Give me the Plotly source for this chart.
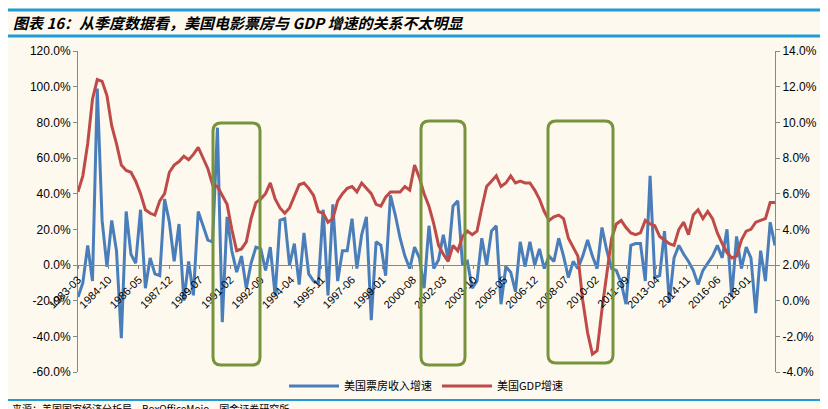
import plotly.graph_objects as go
import pandas as pd

dates = pd.date_range("1983-03-01", periods=146, freq="3MS").strftime("%Y-%m-%d").tolist()

box_office = [-18,-10,11,-9,99,25,-1,25,8,-41,30,6,1,31,-13,4,-5,-6,37,24,
              2,23,-20,2,-17,30,22,14,13,77,-32,27,8,-4,5,-13,1,10,9,-3,
              10,-17,25,26,0,12,-11,18,-5,-9,-10,31,-17,34,-9,8,8,26,-2,17,
              27,-31,13,11,-6,39,28,15,5,-2,10,4,-13,22,-2,3,17,3,33,36,
              0,2,-13,-9,15,0,19,22,-22,-1,-4,-15,13,-1,13,0,9,-2,5,2,
              15,5,-7,2,-2,5,14,5,-2,21,8,-2,-3,-10,-22,11,12,12,-9,50,
              -7,-6,19,-21,4,11,6,2,-3,-11,-3,1,5,11,4,20,-18,16,-2,10,
              4,-27,8,-9,24,11]

gdp = [6.1,7.0,8.8,11.3,12.4,12.3,11.5,9.8,8.8,7.6,7.3,7.2,6.7,6.0,5.1,4.9,4.8,5.6,6.0,7.2,
       7.6,7.8,8.1,7.9,8.2,8.6,8.0,7.4,6.5,6.4,5.9,5.4,4.0,2.8,2.9,3.3,4.6,5.5,5.7,6.0,
       6.6,5.7,5.2,4.9,5.2,5.9,6.5,6.6,6.3,5.9,5.0,4.9,4.4,4.6,5.6,6.0,6.3,6.4,6.1,6.6,
       6.3,6.0,5.4,5.3,5.8,6.1,6.1,6.1,6.4,6.2,7.6,6.9,6.0,5.3,4.3,3.1,2.6,2.2,3.1,2.8,
       3.6,3.9,3.7,3.9,5.2,6.4,6.7,7.0,6.4,6.6,7.0,6.6,6.7,6.6,6.6,6.2,5.7,5.0,4.5,4.7,
       4.8,4.6,3.5,3.0,2.5,0.0,-1.8,-3.0,-2.8,-0.5,1.5,3.5,4.3,4.5,4.1,3.8,3.7,3.8,4.5,4.3,
       4.2,3.6,3.4,3.2,3.1,4.0,4.4,3.7,4.8,5.1,4.6,5.0,4.6,3.8,3.2,2.7,2.4,2.5,3.4,3.9,
       4.0,4.4,4.5,4.6,5.5,5.5]

tick_labels = ["1983-03","1984-10","1986-05","1987-12","1989-07","1991-02","1992-09",
               "1994-04","1995-11","1997-06","1999-01","2000-08","2002-03","2003-10",
               "2005-05","2006-12","2008-07","2010-02","2011-09","2013-04","2014-11",
               "2016-06","2018-01"]
tick_vals = [t + "-01" for t in tick_labels]

left_ticks = list(range(-60, 121, 20))
right_ticks = list(range(-4, 15, 2))

W, H = 828, 409
L, R, T, B = 70, 767, 43, 364
def px(x): return (x - L) / (R - L)
def py(y): return (B - y) / (B - T)

fig = go.Figure()
fig.add_trace(go.Scatter(x=dates, y=box_office, mode="lines", name="美国票房收入增速",
                         line=dict(color="#4A7EBB", width=3)))
fig.add_trace(go.Scatter(x=dates, y=gdp, mode="lines", name="美国GDP增速", yaxis="y2",
                         line=dict(color="#BE4B48", width=3)))

font_axis = dict(family="Liberation Sans, Arial", size=12, color="#000")
fig.update_layout(
    width=W, height=H,
    margin=dict(l=L, r=W - R, t=T, b=H - B, autoexpand=False),
    paper_bgcolor="#FDF9EF", plot_bgcolor="#FDF9EF",
    showlegend=True,
    legend=dict(orientation="h", x=0.5, xanchor="center", y=py(378), yanchor="middle",
                font=dict(family="Noto Sans CJK SC", size=11, color="#000"),
                bgcolor="rgba(0,0,0,0)", itemwidth=50),
    xaxis=dict(type="date", range=[dates[0], dates[-1]], tickvals=tick_vals, ticktext=tick_labels,
               tickangle=-45, tickfont=dict(family="Liberation Sans, Arial", size=11, color="#000"),
               showgrid=False, zeroline=False, showline=True, linecolor="#888", linewidth=1,
               ticks="outside", ticklen=3, tickcolor="#888", automargin=False,
               anchor="free", position=py(257)),
    yaxis=dict(range=[-60, 120], tickvals=left_ticks, ticktext=[f"{v:.1f}%" for v in left_ticks],
               tickfont=font_axis, showgrid=False, zeroline=False, showline=True, automargin=False,
               linecolor="#888", ticks="outside", ticklen=4, tickcolor="#888"),
    yaxis2=dict(range=[-4, 14], tickvals=right_ticks, ticktext=[f"{v:.1f}%" for v in right_ticks],
                tickfont=font_axis, overlaying="y", side="right", showgrid=False, zeroline=False,
                automargin=False,
                showline=True, linecolor="#888", ticks="outside", ticklen=4, tickcolor="#888"),
)

def rrect(x0, y0, x1, y1, r=8):
    return (f"M {px(x0+r)} {py(y0)} L {px(x1-r)} {py(y0)} Q {px(x1)} {py(y0)} {px(x1)} {py(y0+r)} "
            f"L {px(x1)} {py(y1-r)} Q {px(x1)} {py(y1)} {px(x1-r)} {py(y1)} "
            f"L {px(x0+r)} {py(y1)} Q {px(x0)} {py(y1)} {px(x0)} {py(y1-r)} "
            f"L {px(x0)} {py(y0+r)} Q {px(x0)} {py(y0)} {px(x0+r)} {py(y0)} Z")

for (x0, y0, x1, y1) in [(205, 115, 252, 357), (413, 113, 457, 357), (540, 113, 605, 355)]:
    fig.add_shape(type="path", path=rrect(x0, y0, x1, y1), xref="paper", yref="paper",
                  line=dict(color="#77933C", width=3))

for yy in (2, 28, 392):
    fig.add_shape(type="line", xref="paper", yref="paper", x0=px(0), x1=px(W), y0=py(yy), y1=py(yy),
                  line=dict(color="#1F9BD7", width=3 if yy != 392 else 2))

fig.add_annotation(text="<b><i>图表 16：从季度数据看，美国电影票房与 GDP 增速的关系不太明显</i></b>",
                   xref="paper", yref="paper", x=px(3), y=py(15), xanchor="left", yanchor="middle",
                   showarrow=False, font=dict(family="Noto Sans CJK SC", size=15, color="#000"))
fig.add_annotation(text="来源：美国国家经济分析局，BoxOfficeMojo，国金证券研究所",
                   xref="paper", yref="paper", x=px(2), y=py(401), xanchor="left", yanchor="middle",
                   showarrow=False, font=dict(family="Noto Sans CJK SC", size=10, color="#000"))

fig.write_html("out.html")
